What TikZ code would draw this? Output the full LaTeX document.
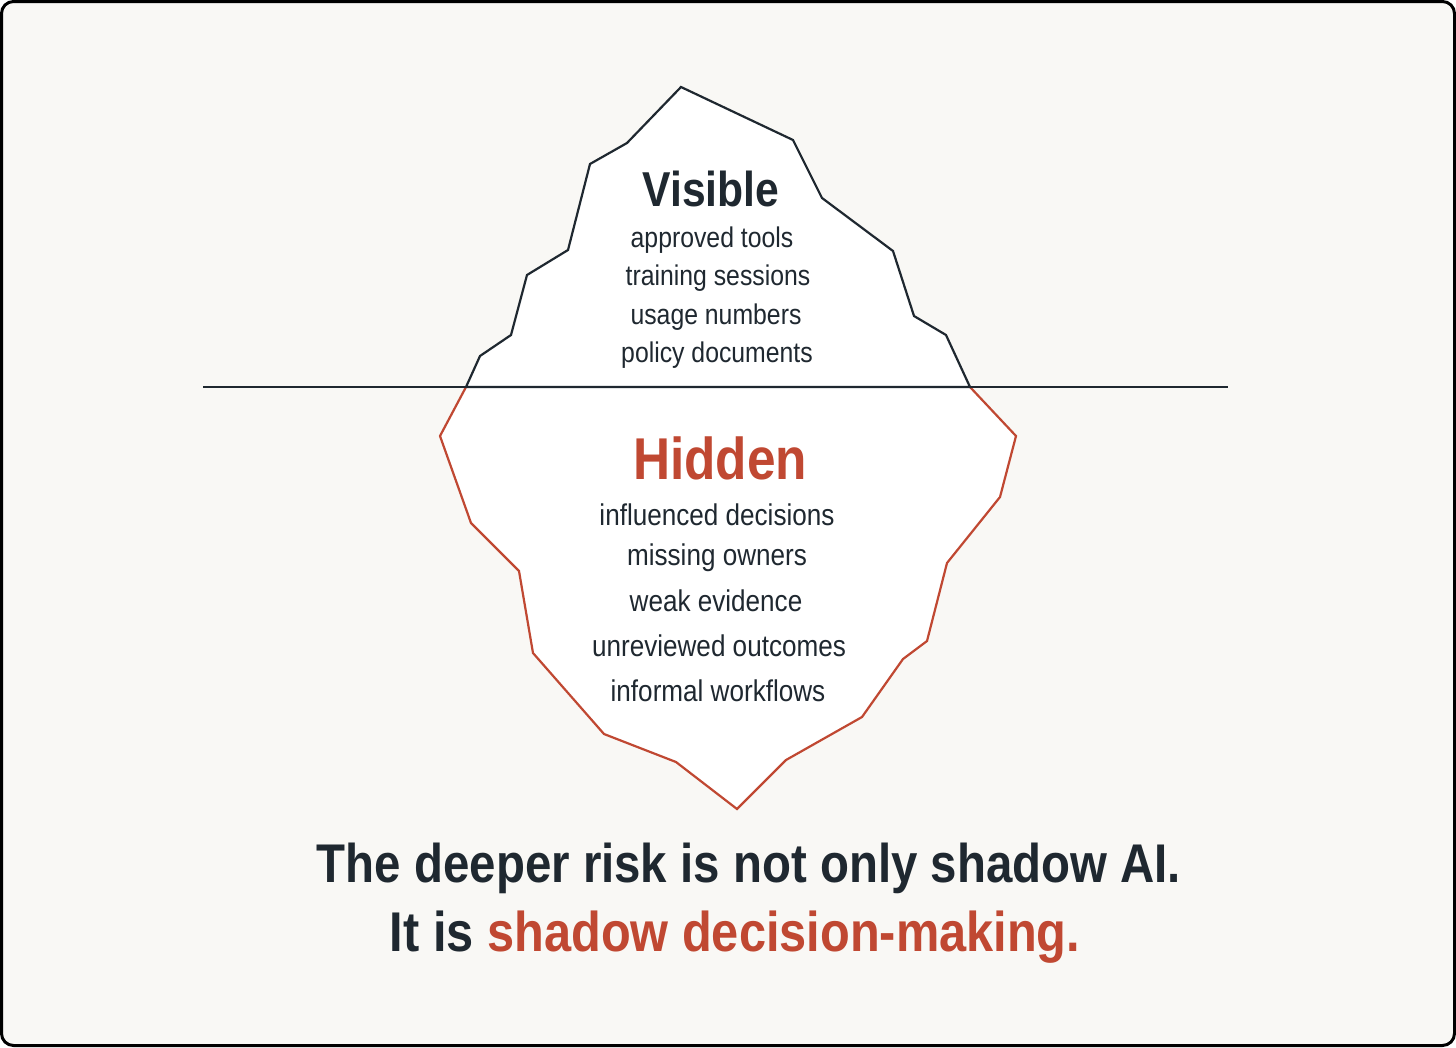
\documentclass[tikz,border=0pt]{standalone}
\usepackage{fontspec}
\setmainfont{Liberation Sans}[FakeStretch=0.87, BoldFeatures={FakeStretch=0.87}]
\definecolor{inkdark}{RGB}{31,40,48}
\definecolor{rust}{RGB}{192,72,50}
\definecolor{paper}{RGB}{249,248,245}
\begin{document}
\begin{tikzpicture}[x=1pt, y=-1pt,
    item/.style={font=\fontsize{30}{34}\selectfont, text=inkdark, inner sep=0pt},
    tipitem/.style={item, font=\fontsize{28.5}{33}\selectfont},
    title/.style={font=\fontsize{49}{56}\selectfont\bfseries, inner sep=0pt}]
    \useasboundingbox (0,0) rectangle (1456,1047);

    % Frame
    \draw[line width=3pt, fill=paper, rounded corners=12pt] (1.5,1.5) rectangle (1454.5,1045.5);

    % Hidden part of the iceberg
    \draw[rust, line width=2.2pt, fill=white, line join=miter]
        (466,387) -- (440,436) -- (471,523) -- (519,571) -- (533,653) -- (604,734)
        -- (676,762) -- (737,809) -- (786,760) -- (862,717) -- (903,659) -- (927,641)
        -- (947,563) -- (1000,497) -- (1016,436) -- (970,387);

    % Visible tip
    \draw[inkdark, line width=2.2pt, fill=white]
        (466,387) -- (480,356) -- (511,335) -- (527,275) -- (568,250) -- (590,164)
        -- (627,143) -- (681,87) -- (793,140) -- (822,198) -- (893,251) -- (914,316)
        -- (946,335) -- (970,387) -- cycle;

    % Waterline
    \coordinate (wl) at (203,387);
    \coordinate (wr) at (1228,387);
    \draw[inkdark, line width=1.8pt] (wl) -- (wr);

    % Above the waterline
    \node[title, text=inkdark] (visible) at (711,189) {Visible};
    \node[tipitem] (tools) at (712,240) {approved tools};
    \node[tipitem] (training) at (718,278) {training sessions};
    \node[tipitem] (usage) at (716,317) {usage numbers};
    \node[tipitem] (policy) at (717,355) {policy documents};

    % Below the waterline
    \node[title, text=rust, font=\fontsize{59}{64}\selectfont\bfseries] (hidden) at (720,458) {Hidden};
    \node[item] (decisions) at (717,515) {influenced decisions};
    \node[item] (owners) at (717,558) {missing owners};
    \node[item] (evidence) at (716,601) {weak evidence};
    \node[item] (outcomes) at (719,646) {unreviewed outcomes};
    \node[item] (workflows) at (718,691) {informal workflows};

    % Closing statement
    \node[title, text=inkdark, font=\fontsize{54.5}{60}\selectfont\bfseries] (claim) at (749,868) {The deeper risk is not only shadow AI.};
    \node[title, text=inkdark, font=\fontsize{56}{60}\selectfont\bfseries] (point) at (735,937) {It is \textcolor{rust}{shadow decision-making.}};

\end{tikzpicture}
\end{document}
